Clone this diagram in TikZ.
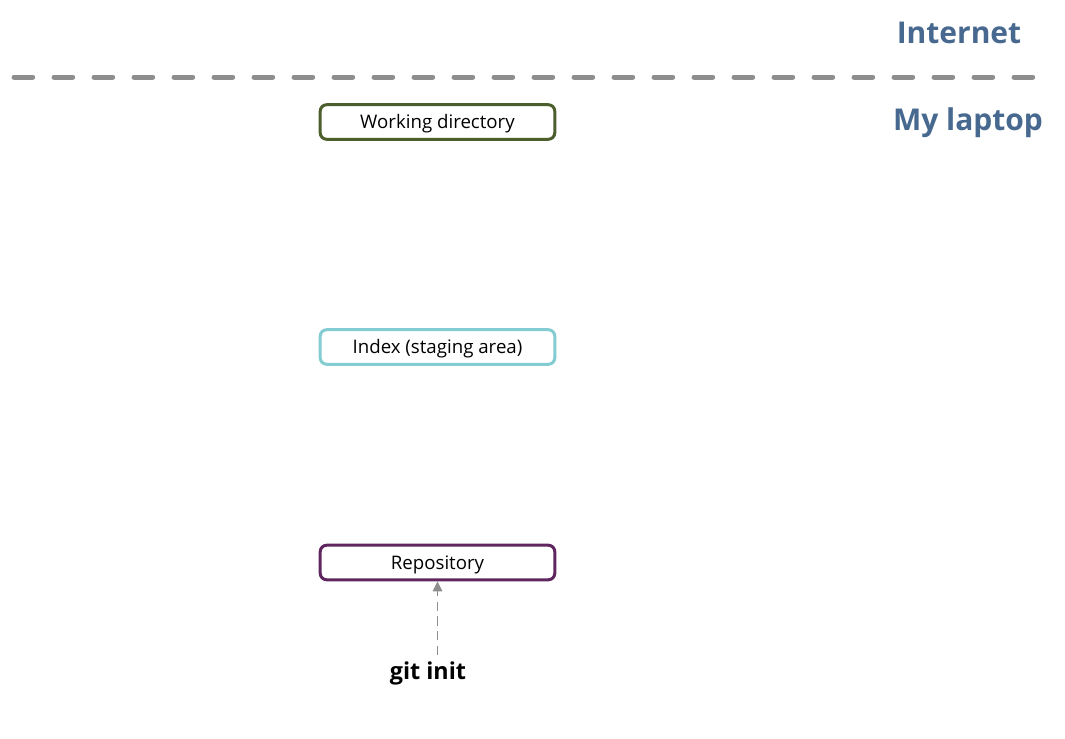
\documentclass[tikz,border=0pt]{standalone}
\usepackage{fontspec}
\setmainfont{Open Sans}
\usepackage{xcolor}
\definecolor{olive}{HTML}{4B5E2C}
\definecolor{aqua}{HTML}{82CCD2}
\definecolor{plum}{HTML}{60265F}
\definecolor{steel}{HTML}{47698F}
\definecolor{ash}{HTML}{8E8E8E}
\usetikzlibrary{arrows.meta,positioning}
\tikzset{
  >={Triangle[length=7.5pt,width=7pt]},
  area/.style   ={draw,fill=white,rounded corners=5pt,line width=2.25pt,
                  minimum width=176pt,minimum height=26pt,inner sep=0pt,
                  text height=10pt,text depth=0pt,
                  font=\fontsize{14}{17}\selectfont},
  zone/.style   ={font=\fontsize{22.5}{27}\selectfont\bfseries,text=steel},
  cmd/.style    ={font=\fontsize{17.5}{21}\selectfont\bfseries},
  border/.style ={draw=ash,line width=3.75pt,line cap=round,
                  dash pattern=on 14pt off 16pt},
  flow/.style   ={->,draw=ash,line width=1.4pt,dash pattern=on 7pt off 4pt},
}
\begin{document}
\begin{tikzpicture}[x=0.75pt,y=-0.75pt]
\useasboundingbox (0,0) rectangle (1065,739);
% network boundary
\draw[border] (14,77) -- (1036,77);
\node[zone] (internet) at (959,33) {Internet};
\node[zone] (laptop) at (968,123) {My laptop};
% git areas
\node[area,draw=olive] (work) at (437.5,122) {Working directory};
\node[area,draw=aqua] (index) at (437.5,347) {Index (staging area)};
\node[area,draw=plum] (repo) at (437.5,562.5) {Repository};
% command
\node[cmd] (init) at (428,673) {git init};
\coordinate (initTop) at (437.5,655);
\draw[flow] (initTop) -- (repo.south);
\end{tikzpicture}
\end{document}
